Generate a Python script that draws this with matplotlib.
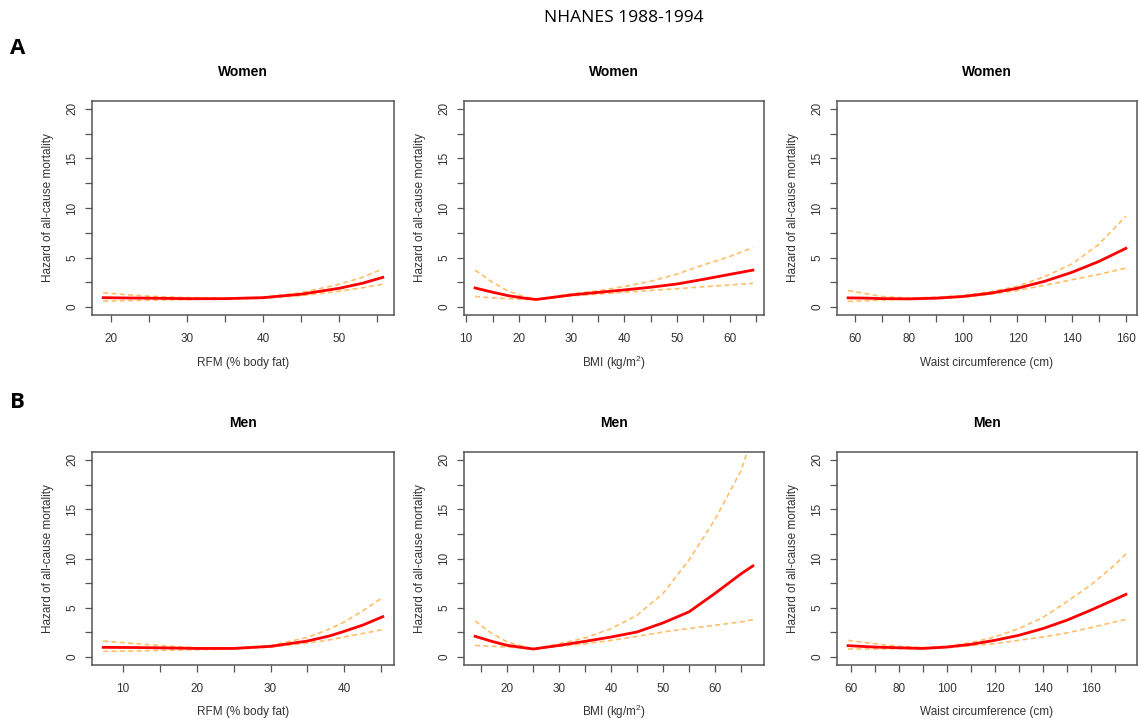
import matplotlib as mpl
import matplotlib.pyplot as plt

mpl.rcParams['font.family'] = ['Liberation Sans', 'DejaVu Sans']
mpl.rcParams['mathtext.fontset'] = 'custom'
mpl.rcParams['mathtext.rm'] = 'Liberation Sans'
mpl.rcParams['mathtext.it'] = 'Liberation Sans:italic'

# Women, RFM (% body fat)
w_rfm_x = [19, 22, 25, 30, 35, 40, 45, 50, 53, 55.7]
w_rfm_hr = [0.95, 0.92, 0.9, 0.85, 0.85, 0.95, 1.3, 1.9, 2.4, 3.0]
w_rfm_hi = [1.45, 1.25, 1.1, 0.95, 0.9, 1.0, 1.45, 2.3, 3.0, 3.85]
w_rfm_lo = [0.6, 0.65, 0.7, 0.75, 0.8, 0.9, 1.15, 1.6, 1.95, 2.3]

# Women, BMI
w_bmi_x = [11.7, 15, 18, 21, 23.3, 26, 30, 35, 40, 45, 50, 55, 60, 64.4]
w_bmi_hr = [1.93, 1.5, 1.15, 0.9, 0.77, 0.95, 1.23, 1.48, 1.73, 2.0, 2.33, 2.8, 3.3, 3.73]
w_bmi_hi = [3.73, 2.5, 1.6, 1.05, 0.8, 1.0, 1.33, 1.65, 2.07, 2.6, 3.33, 4.25, 5.1, 6.0]
w_bmi_lo = [1.07, 0.93, 0.85, 0.78, 0.75, 0.9, 1.13, 1.3, 1.5, 1.68, 1.85, 2.05, 2.23, 2.4]

# Women, waist circumference
w_wc_x = [57.5, 65, 70, 80, 90, 100, 110, 120, 130, 140, 150, 160]
w_wc_hr = [0.93, 0.9, 0.85, 0.83, 0.9, 1.07, 1.4, 1.9, 2.6, 3.5, 4.6, 5.93]
w_wc_hi = [1.67, 1.3, 1.07, 0.9, 1.0, 1.17, 1.55, 2.1, 3.07, 4.33, 6.33, 9.17]
w_wc_lo = [0.57, 0.65, 0.73, 0.78, 0.85, 1.0, 1.3, 1.67, 2.2, 2.75, 3.3, 3.93]

# Men, RFM (% body fat)
m_rfm_x = [7.35, 12, 16, 20, 25, 30, 35, 38, 40, 42.5, 45.2]
m_rfm_hr = [0.99, 0.97, 0.93, 0.88, 0.88, 1.09, 1.63, 2.15, 2.62, 3.25, 4.1]
m_rfm_hi = [1.63, 1.35, 1.12, 0.95, 0.9, 1.16, 2.0, 2.85, 3.57, 4.7, 6.05]
m_rfm_lo = [0.58, 0.63, 0.7, 0.75, 0.82, 1.02, 1.43, 1.75, 2.04, 2.4, 2.79]

# Men, BMI
m_bmi_x = [13.8, 17, 20, 25, 30, 35, 40, 45, 50, 55, 60, 65, 67.3]
m_bmi_hr = [2.11, 1.6, 1.19, 0.82, 1.19, 1.6, 2.04, 2.55, 3.47, 4.59, 6.46, 8.44, 9.25]
m_bmi_hi = [3.67, 2.4, 1.53, 0.82, 1.36, 1.94, 2.89, 4.25, 6.46, 9.86, 13.95, 18.9, 22.5]
m_bmi_lo = [1.19, 1.1, 1.02, 0.82, 1.09, 1.36, 1.7, 2.11, 2.55, 2.89, 3.23, 3.57, 3.81]

# Men, waist circumference
m_wc_x = [59, 70, 80, 90, 100, 110, 120, 130, 140, 150, 160, 170, 174.6]
m_wc_hr = [1.16, 1.02, 0.95, 0.88, 1.02, 1.29, 1.7, 2.21, 2.89, 3.74, 4.76, 5.85, 6.36]
m_wc_hi = [1.7, 1.36, 1.09, 0.95, 1.09, 1.46, 2.04, 2.89, 4.01, 5.61, 7.31, 9.35, 10.48]
m_wc_lo = [0.82, 0.82, 0.85, 0.85, 0.95, 1.16, 1.36, 1.7, 2.04, 2.45, 2.99, 3.57, 3.81]

panels = [
    ('Women', 'RFM (% body fat)', w_rfm_x, w_rfm_hr, w_rfm_hi, w_rfm_lo, [20, 30, 40, 50], 5),
    ('Women', 'BMI (kg/m$^2$)', w_bmi_x, w_bmi_hr, w_bmi_hi, w_bmi_lo, [10, 20, 30, 40, 50, 60], 5),
    ('Women', 'Waist circumference (cm)', w_wc_x, w_wc_hr, w_wc_hi, w_wc_lo, [60, 80, 100, 120, 140, 160], 10),
    ('Men', 'RFM (% body fat)', m_rfm_x, m_rfm_hr, m_rfm_hi, m_rfm_lo, [10, 20, 30, 40], 5),
    ('Men', 'BMI (kg/m$^2$)', m_bmi_x, m_bmi_hr, m_bmi_hi, m_bmi_lo, [20, 30, 40, 50, 60], 5),
    ('Men', 'Waist circumference (cm)', m_wc_x, m_wc_hr, m_wc_hi, m_wc_lo, [60, 80, 100, 120, 140, 160], 10),
]

W, H = 1139, 723
fig = plt.figure(figsize=(W / 100, H / 100), dpi=100)

col_px = [(92, 394), (464, 764), (837, 1137)]
row_px = [(101, 315), (452, 665)]
xlabel_y_px = [363, 712]

box_color = '#555555'
text_color = '#333333'
ci_color = '#FFBE6A'

for i, (title, xlabel, x, hr, hi, lo, xticks, minor_step) in enumerate(panels):
    r, c = divmod(i, 3)
    x0, x1 = col_px[c]
    y0, y1 = row_px[r]
    ax = fig.add_axes([x0 / W, (H - y1) / H, (x1 - x0) / W, (y1 - y0) / H])

    ax.plot(x, hi, linestyle=(0, (3, 2)), color=ci_color, linewidth=1.2)
    ax.plot(x, lo, linestyle=(0, (3, 2)), color=ci_color, linewidth=1.2)
    ax.plot(x, hr, color='#FF0000', linewidth=2)

    span = max(x) - min(x)
    xmin, xmax = min(x) - 0.04 * span, max(x) + 0.04 * span
    ax.set_xlim(xmin, xmax)
    ax.set_ylim(-0.8, 20.8)

    ax.set_xticks(xticks)
    minor_x = [t + minor_step for t in [xticks[0] - 2 * minor_step] + xticks]
    ax.set_xticks([t for t in minor_x if xmin < t < xmax and t not in xticks], minor=True)
    ax.set_yticks([0, 5, 10, 15, 20])
    ax.set_yticks([2.5, 7.5, 12.5, 17.5], minor=True)
    ax.set_yticklabels(['0', '5', '10', '15', '20'], rotation=90, va='center')

    ax.tick_params(which='both', direction='out', length=5, width=0.9, color=box_color,
                   labelsize=8.5, labelcolor=text_color)
    ax.tick_params(axis='x', pad=8)
    ax.tick_params(axis='y', pad=5)
    for s in ax.spines.values():
        s.set_color(box_color)
        s.set_linewidth(1.1)

    ax.set_xlabel(xlabel, fontsize=8.5, color=text_color, va='center')
    ax.xaxis.set_label_coords(0.5, -(xlabel_y_px[r] - y1) / (y1 - y0))
    ax.set_ylabel('Hazard of all-cause mortality', fontsize=8.5, color=text_color, labelpad=9)
    ax.set_title(title, fontsize=10, fontweight='bold', pad=18)

fig.text(624 / W, 1 - 18 / H, 'NHANES 1988-1994', fontsize=12.5, ha='center', va='center',
         family=['Open Sans', 'DejaVu Sans'])
fig.text(10 / W, 1 - 48 / H, 'A', fontsize=16, fontweight='bold', ha='left', va='center',
         family=['Open Sans', 'DejaVu Sans'])
fig.text(10 / W, 1 - 403 / H, 'B', fontsize=16, fontweight='bold', ha='left', va='center',
         family=['Open Sans', 'DejaVu Sans'])

fig.savefig('out.png', dpi=100)
